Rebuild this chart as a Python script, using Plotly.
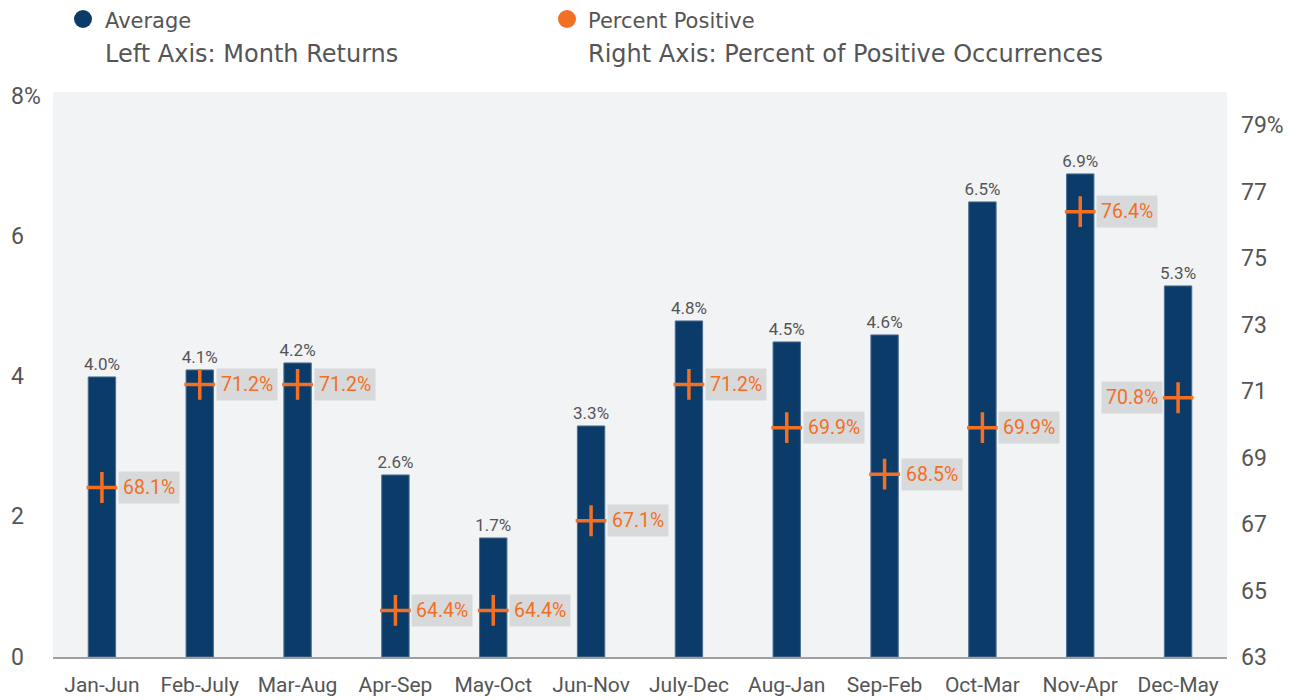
import plotly.graph_objects as go

categories = ["Jan-Jun", "Feb-July", "Mar-Aug", "Apr-Sep", "May-Oct", "Jun-Nov",
              "July-Dec", "Aug-Jan", "Sep-Feb", "Oct-Mar", "Nov-Apr", "Dec-May"]
average = [4.0, 4.1, 4.2, 2.6, 1.7, 3.3, 4.8, 4.5, 4.6, 6.5, 6.9, 5.3]
pct_positive = [68.1, 71.2, 71.2, 64.4, 64.4, 67.1, 71.2, 69.9, 68.5, 69.9, 76.4, 70.8]
left_ticks = [0, 2, 4, 6, 8]
left_ticktext = ["0", "2", "4", "6", "8%"]
right_ticks = [63, 65, 67, 69, 71, 73, 75, 77, 79]
right_ticktext = ["63", "65", "67", "69", "71", "73", "75", "77", "79%"]

NAVY = "#0b3c69"
ORANGE = "#f26f24"
GREY = "#555555"
FONT = "Roboto"
LEGEND_FONT = "DejaVu Sans"

fig = go.Figure()
fig.add_trace(go.Bar(
    x=categories, y=average, width=0.28,
    marker=dict(color=NAVY, line=dict(color="#4d6f93", width=1)),
    text=[f"{v:.1f}%" for v in average], textposition="outside",
    constraintext="none",
    textfont=dict(family=FONT, size=17, color=GREY), cliponaxis=False,
    showlegend=False, yaxis="y",
))
fig.add_trace(go.Scatter(
    x=categories, y=pct_positive, mode="markers", yaxis="y2",
    marker=dict(symbol="cross-thin", size=22, line=dict(color=ORANGE, width=3.5), color=ORANGE),
    showlegend=False,
))

annotations = []
for i, (c, p) in enumerate(zip(categories, pct_positive)):
    last = i == len(categories) - 1
    annotations.append(dict(
        x=c, y=p, xref="x", yref="y2", text=f"{p:.1f}%", showarrow=False,
        xanchor="right" if last else "left", xshift=-15 if last else 16,
        yanchor="middle", bgcolor="#d8d9db", borderpad=4,
        font=dict(family=FONT, size=19.5, color=ORANGE),
    ))

# left tick labels (left-aligned)
for v, t in zip(left_ticks, left_ticktext):
    annotations.append(dict(
        x=-44 / 1174, y=v, xref="paper", yref="y", text=t, showarrow=False,
        xanchor="left", yanchor="middle", font=dict(family=FONT, size=23, color=GREY),
    ))

# legend (positions in plot-area fractions)
legend_items = [
    (83, 103, "Average", "Left Axis: Month Returns", NAVY),
    (567, 586, "Percent Positive", "Right Axis: Percent of Positive Occurrences", ORANGE),
]
shapes = []
for xdot, xtxt, name, sub, col in legend_items:
    xt = (xtxt - 53) / 1174
    xc = (xdot - 53) / 1174
    annotations.append(dict(x=xt, y=(657 - 20.5) / 565, xref="paper", yref="paper", text=name,
                            showarrow=False, xanchor="left", yanchor="middle",
                            font=dict(family=LEGEND_FONT, size=21, color=GREY)))
    annotations.append(dict(x=xt, y=(657 - 54) / 565, xref="paper", yref="paper", text=sub,
                            showarrow=False, xanchor="left", yanchor="middle",
                            font=dict(family=LEGEND_FONT, size=24, color=GREY)))
    shapes.append(dict(type="circle", xref="paper", yref="paper",
                       xsizemode="pixel", ysizemode="pixel", xanchor=xc, yanchor=(657 - 19) / 565,
                       x0=-9, x1=9, y0=-9, y1=9, fillcolor=col, line=dict(width=0)))

fig.update_layout(
    width=1297, height=692,
    margin=dict(l=45, r=78, t=84, b=43, autoexpand=False),
    paper_bgcolor="white", plot_bgcolor="#f2f3f5",
    font=dict(family=FONT, color=GREY),
    xaxis=dict(range=[-0.5, len(categories) - 0.5], showgrid=False, showline=True,
               linecolor="#a0a0a0", linewidth=2,
               tickfont=dict(family=FONT, size=21, color=GREY), ticks="",
               ticklabelstandoff=8, fixedrange=True),
    yaxis=dict(range=[0, 8.07], tickvals=left_ticks, showticklabels=False,
               showgrid=False, zeroline=False, fixedrange=True),
    yaxis2=dict(range=[63, 80], overlaying="y", side="right", tickvals=right_ticks,
                ticktext=right_ticktext, showgrid=False, zeroline=False,
                tickfont=dict(family=FONT, size=23, color=GREY), ticklabelstandoff=13,
                fixedrange=True),
    annotations=annotations, shapes=shapes,
)

fig.write_html("out.html")
